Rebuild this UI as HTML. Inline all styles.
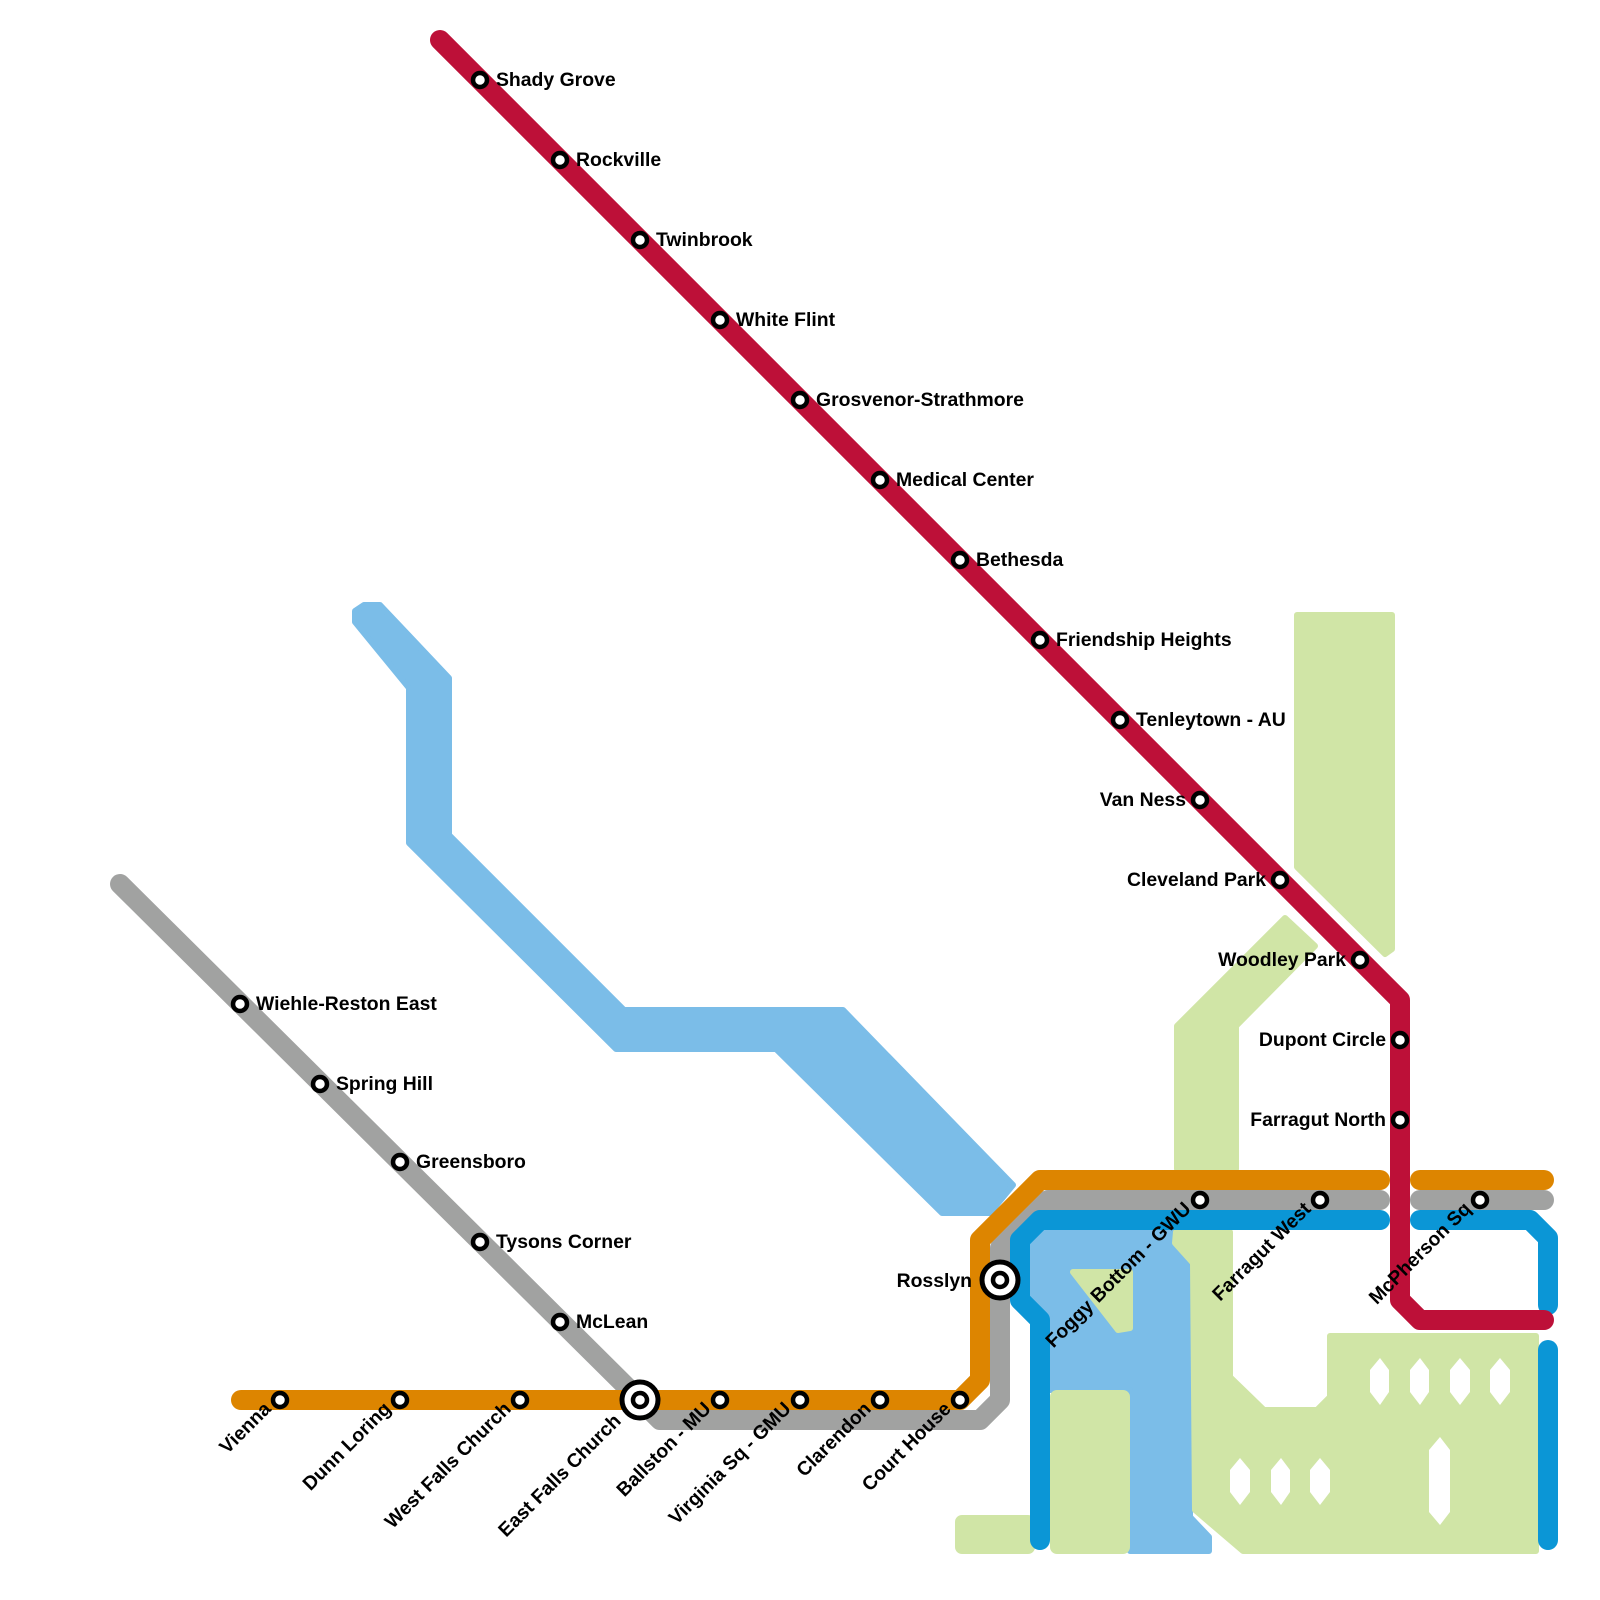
<!DOCTYPE html>
<html><head><meta charset="utf-8"><style>
html,body{margin:0;padding:0;background:#fff}
svg{display:block}
text{font-family:"Liberation Sans",Arial,sans-serif;font-weight:bold;font-size:19.4px;fill:#000}
</style></head><body>
<svg width="1600" height="1600" viewBox="0 0 1600 1600" xmlns="http://www.w3.org/2000/svg">
<g fill="#7bbde8" stroke="#7bbde8" stroke-width="6" stroke-linejoin="round">
<polygon points="355,611 364,605 380,605 449,678 449,835 624,1010 843,1010 1013,1185 990,1213 942,1213 776,1049 616,1049 409,843 409,688 355,622"/>
<polygon points="1030,1240 1045,1229 1171,1229 1171,1243 1190,1263 1190,1517 1209,1537 1209,1551 1130,1551 1130,1390 1050,1390 1050,1317 1030,1297"/>
</g>
<g fill="#d0e5a6" stroke="#d0e5a6" stroke-width="6" stroke-linejoin="round">
<polygon points="1177,1026 1285,918 1315,946 1236,1026 1236,1169 1177,1169"/>
<polygon points="1297,615 1392,615 1392,949 1385,954 1297,867"/>
<polygon points="1073,1272 1130,1272 1130,1328 1118,1330"/>
<rect x="1053" y="1393" width="74" height="158" rx="4"/>
<rect x="958" y="1518" width="74" height="33" rx="4"/>
<polygon points="1175,1243 1176,1232 1230,1232 1230,1377 1264,1410 1317,1410 1330,1397 1330,1336 1536,1336 1536,1551 1243,1551 1195,1510 1193,1263"/>
</g>
<g fill="#fff">
<polygon points="1370,1370 1380,1358 1389,1370 1389,1392 1380,1405 1370,1392"/>
<polygon points="1410,1370 1420,1358 1429,1370 1429,1392 1420,1405 1410,1392"/>
<polygon points="1450,1370 1460,1358 1470,1370 1470,1392 1460,1405 1450,1392"/>
<polygon points="1490,1370 1500,1358 1510,1370 1510,1392 1500,1405 1490,1392"/>
<polygon points="1230,1470 1240,1458 1250,1470 1250,1492 1240,1505 1230,1492"/>
<polygon points="1271,1470 1281,1458 1290,1470 1290,1492 1281,1505 1271,1492"/>
<polygon points="1310,1470 1320,1458 1330,1470 1330,1492 1320,1505 1310,1492"/>
<polygon points="1429,1450 1440,1437 1450,1450 1450,1512 1440,1525 1429,1512"/>
</g>
<g fill="none" stroke-width="20" stroke-linecap="round" stroke-linejoin="round">
<polyline stroke="#a1a2a1" points="120,884 640,1400 660,1420 980,1420 1000,1400 1000,1248 1048,1200 1380,1200"/>
<polyline stroke="#a1a2a1" points="1420,1200 1544,1200"/>
<polyline stroke="#dd8500" points="241,1400 960,1400 980,1380 980,1240 1040,1180 1380,1180"/>
<polyline stroke="#dd8500" points="1420,1180 1544,1180"/>
<polyline stroke="#0b96d6" points="1040,1540 1040,1320 1020,1300 1020,1240 1040,1220 1380,1220"/>
<polyline stroke="#0b96d6" points="1420,1220 1530,1220 1548,1238 1548,1305"/>
<polyline stroke="#0b96d6" points="1548,1350 1548,1540"/>
<polyline stroke="#bd1038" points="440,40 1400,1000 1400,1300 1420,1320 1544,1320"/>
</g>
<g fill="#fff" stroke="#000" stroke-width="4.5">
<circle cx="480" cy="80" r="7"/><circle cx="560" cy="160" r="7"/><circle cx="640" cy="240" r="7"/><circle cx="720" cy="320" r="7"/><circle cx="800" cy="400" r="7"/><circle cx="880" cy="480" r="7"/><circle cx="960" cy="560" r="7"/><circle cx="1040" cy="640" r="7"/><circle cx="1120" cy="720" r="7"/><circle cx="1200" cy="800" r="7"/><circle cx="1280" cy="880" r="7"/><circle cx="1360" cy="960" r="7"/><circle cx="1400" cy="1040" r="7"/><circle cx="1400" cy="1120" r="7"/>
<circle cx="240" cy="1004" r="7"/><circle cx="320" cy="1084" r="7"/><circle cx="400" cy="1162" r="7"/><circle cx="480" cy="1242" r="7"/><circle cx="560" cy="1322" r="7"/>
<circle cx="280" cy="1400" r="7"/><circle cx="400" cy="1400" r="7"/><circle cx="520" cy="1400" r="7"/><circle cx="720" cy="1400" r="7"/><circle cx="800" cy="1400" r="7"/><circle cx="880" cy="1400" r="7"/><circle cx="960" cy="1400" r="7"/>
<circle cx="1200" cy="1200" r="7"/><circle cx="1320" cy="1200" r="7"/><circle cx="1480" cy="1200" r="7"/>
<circle cx="640" cy="1400" r="18" stroke-width="5"/><circle cx="640" cy="1400" r="7"/>
<circle cx="1000" cy="1280" r="18" stroke-width="5"/><circle cx="1000" cy="1280" r="7"/>
</g>
<g>
<text x="496" y="86">Shady Grove</text><text x="576" y="166">Rockville</text><text x="656" y="246">Twinbrook</text><text x="736" y="326">White Flint</text><text x="816" y="406">Grosvenor-Strathmore</text><text x="896" y="486">Medical Center</text><text x="976" y="566">Bethesda</text><text x="1056" y="646">Friendship Heights</text><text x="1136" y="726">Tenleytown - AU</text>
<g text-anchor="end"><text x="1186" y="806">Van Ness</text><text x="1266" y="886">Cleveland Park</text><text x="1346" y="966">Woodley Park</text><text x="1386" y="1046">Dupont Circle</text><text x="1386" y="1126">Farragut North</text><text x="972" y="1287">Rosslyn</text></g>
<text x="256" y="1010">Wiehle-Reston East</text><text x="336" y="1090">Spring Hill</text><text x="416" y="1168">Greensboro</text><text x="496" y="1248">Tysons Corner</text><text x="576" y="1328">McLean</text>
<g text-anchor="end">
<text transform="translate(272,1410) rotate(-45)">Vienna</text>
<text transform="translate(392,1410) rotate(-45)">Dunn Loring</text>
<text transform="translate(512,1410) rotate(-45)">West Falls Church</text>
<text transform="translate(622,1422) rotate(-45)">East Falls Church</text>
<text transform="translate(712,1410) rotate(-45)">Ballston - MU</text>
<text transform="translate(792,1410) rotate(-45)">Virginia Sq - GMU</text>
<text transform="translate(872,1410) rotate(-45)">Clarendon</text>
<text transform="translate(952,1410) rotate(-45)">Court House</text>
<text transform="translate(1192,1210) rotate(-45)">Foggy Bottom - GWU</text>
<text transform="translate(1312,1210) rotate(-45)">Farragut West</text>
<text transform="translate(1472,1210) rotate(-45)">McPherson Sq</text>
</g>
</g>
</svg>
</body></html>
